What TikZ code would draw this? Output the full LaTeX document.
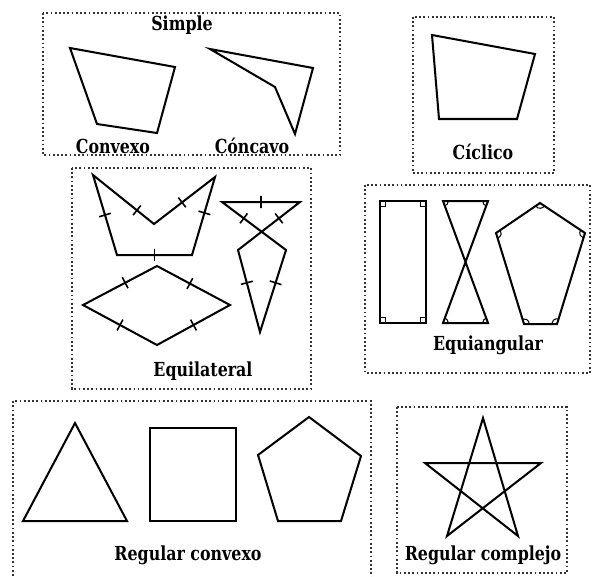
\documentclass[tikz,border=0pt]{standalone}
\usepackage{fontspec}
\setmainfont{DejaVu Serif}
\newfontfamily\labelfont{DejaVu Serif}[FakeStretch=0.82]
\usepackage{tikz}
\usetikzlibrary{angles, calc}

\begin{document}
\begin{tikzpicture}[
        x=0.02cm, y=-0.02cm,
        group/.style={draw=black!80, line width=1pt, dash pattern=on 1pt off 1.4pt},
        poly/.style={draw=black, line width=1.15pt, line join=miter},
        title/.style={font=\labelfont\bfseries\fontsize{11}{12}\selectfont, inner sep=0pt},
        tick/.style={draw, sloped, inner sep=0pt, minimum width=0pt, minimum height=7pt, line width=0.9pt},
        anglemark/.style={draw, line width=0.6pt, angle radius=3pt}
    ]
        \useasboundingbox (0,0) rectangle (594,576);

        % Simple
        \draw[group] (43,13) rectangle (340,155);
        \node[title] (simple) at (182,25) {Simple};
        \draw[poly] (70,48) -- (175,67) -- (157,133) -- (97,124) -- cycle;
        \draw[poly] (210,49) -- (313,68) -- (295,134) -- (275,87) -- cycle;
        \node[title] (convexo) at (113,146) {Convexo};
        \node[title] (concavo) at (252,146) {Cóncavo};

        % Ciclico
        \draw[group] (413,17) rectangle (554,173);
        \draw[poly] (432,35) -- (535,54) -- (517,119) -- (439,119) -- cycle;
        \node[title] (ciclico) at (483,152) {Cíclico};

        % Equilateral
        \draw[group] (72,168) rectangle (311,389);
        \draw[poly] (93,175) -- node[tick, pos=0.72]{} (154,224)
                            -- node[tick, pos=0.46]{} (215,177)
                            -- node[tick, pos=0.46]{} (192,255)
                            -- node[tick]{} (117,255)
                            -- node[tick]{} cycle;
        \draw[poly] (83,305) -- node[tick, pos=0.57]{} (157,266)
                            -- node[tick, pos=0.45]{} (230,305)
                            -- node[tick]{} (157,345)
                            -- node[tick]{} cycle;
        \draw[poly] (222,202) -- node[tick]{} (300,202)
                              -- node[tick, pos=0.34]{} (238,250)
                              -- node[tick, pos=0.4]{} (260,332)
                              -- node[tick, pos=0.6]{} (286,250)
                              -- node[tick, pos=0.66]{} cycle;
        \node[title] (equilateral) at (203,371) {Equilateral};

        % Equiangular
        \draw[group] (365,185) rectangle (590,373);
        \coordinate (r1) at (380,201);
        \coordinate (r2) at (426,201);
        \coordinate (r3) at (426,323);
        \coordinate (r4) at (380,323);
        \draw[poly] (r1) -- (r2) -- (r3) -- (r4) -- cycle;
        \pic[anglemark] {right angle = r4--r1--r2};
        \pic[anglemark] {right angle = r1--r2--r3};
        \pic[anglemark] {right angle = r2--r3--r4};
        \pic[anglemark] {right angle = r3--r4--r1};
        \coordinate (h1) at (443,201);
        \coordinate (h2) at (488,201);
        \coordinate (h3) at (443,323);
        \coordinate (h4) at (488,323);
        \draw[poly] (h1) -- (h2) -- (h3) -- (h4) -- cycle;
        \pic[anglemark] {angle = h4--h1--h2};
        \pic[anglemark] {angle = h1--h2--h3};
        \pic[anglemark] {angle = h4--h3--h2};
        \pic[anglemark] {angle = h1--h4--h3};
        \coordinate (p1) at (540,203);
        \coordinate (p2) at (585,233);
        \coordinate (p3) at (557,324);
        \coordinate (p4) at (524,324);
        \coordinate (p5) at (496,233);
        \draw[poly] (p1) -- (p2) -- (p3) -- (p4) -- (p5) -- cycle;
        \pic[anglemark] {angle = p5--p1--p2};
        \pic[anglemark] {angle = p1--p2--p3};
        \pic[anglemark] {angle = p2--p3--p4};
        \pic[anglemark] {angle = p3--p4--p5};
        \pic[anglemark] {angle = p4--p5--p1};
        \node[title] (equiangular) at (488,345) {Equiangular};

        % Regular convexo
        \draw[group] (13,580) -- (13,401) -- (371,401) -- (371,580);
        \draw[poly] (75,423) -- (127,521) -- (23,521) -- cycle;
        \draw[poly] (150,428) rectangle (236,521);
        \draw[poly] (309,417) -- (361,456) -- (341,521) -- (278,521) -- (258,455) -- cycle;
        \node[title] (convexoreg) at (188,555) {Regular convexo};

        % Regular complejo
        \draw[group] (397,407) rectangle (567,573);
        \draw[poly] (483,418) -- (447,536) -- (541,463) -- (425,463) -- (518,536) -- cycle;
        \node[title] (complejo) at (483,555) {Regular complejo};
    \end{tikzpicture}
\end{document}
